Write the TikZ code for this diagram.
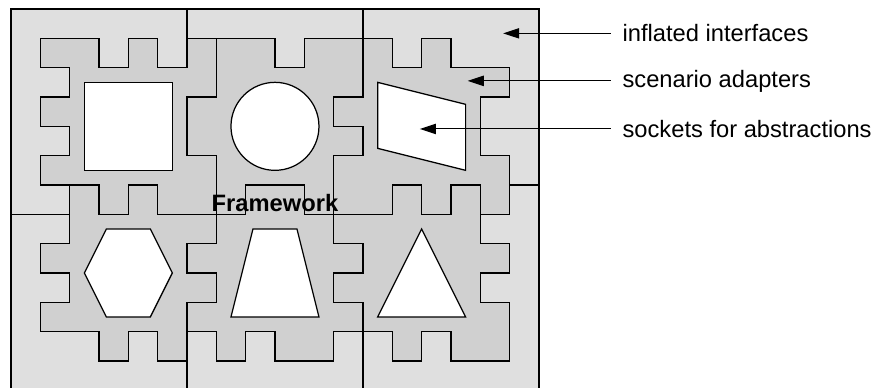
\documentclass[tikz,border=0pt]{standalone}
\usepackage{fontspec}
\setmainfont{Liberation Sans}
\usetikzlibrary{positioning, arrows.meta}
\definecolor{ifacegray}{gray}{0.875}
\definecolor{adaptgray}{gray}{0.815}

\begin{document}
\begin{tikzpicture}[x=0.5cm, y=-0.5cm, line width=0.6pt,
    interface/.style={fill=ifacegray, draw=black},
    adapter/.style={fill=adaptgray, draw=black},
    socket/.style={fill=white, draw=black},
    pointer/.style={-{Triangle[length=7.8pt, width=5pt]}, line width=0.5pt},
    caption/.style={anchor=west, inner xsep=0.19cm, inner ysep=0pt, font=\fontsize{11.5}{14}\selectfont}]
    \useasboundingbox (-0.375,-0.307) rectangle (29.526,12.888);

    % inflated interfaces
    \draw[interface] (0,0) rectangle (18,13);
    \draw (6,0) -- (6,1); % top split
    \draw (12,0) -- (12,1);
    \draw (0,7) -- (2,7); % left split
    \draw (17,6) -- (18,6); % right split
    \draw (6,12) -- (6,13); % bottom split
    \draw (12,11) -- (12,13);

    % scenario adapters, outer outline
    \draw[adapter] (1,1) -- (3,1) -- (3,2) -- (4,2) -- (4,1) -- (5,1) -- (5,2) -- (6,2) -- (6,1) -- (9,1) -- (9,2) -- (10,2) -- (10,1)
        -- (13,1) -- (13,2) -- (14,2) -- (14,1) -- (15,1) -- (15,2) -- (17,2) % top
        -- (17,3) -- (16,3) -- (16,5) -- (17,5) -- (17,7) -- (16,7) -- (16,8) -- (17,8) -- (17,9) -- (16,9) -- (16,10) -- (17,10) -- (17,12) % right
        -- (15,12) -- (15,11) -- (14,11) -- (14,12) -- (13,12) -- (13,11) -- (11,11) -- (11,12) -- (9,12) -- (9,11) -- (8,11) -- (8,12)
        -- (7,12) -- (7,11) -- (6,11) -- (6,12) -- (5,12) -- (5,11) -- (4,11) -- (4,12) -- (3,12) -- (3,11) -- (1,11) % bottom
        -- (1,10) -- (2,10) -- (2,9) -- (1,9) -- (1,8) -- (2,8) -- (2,6) -- (1,6) -- (1,5) -- (2,5) -- (2,4) -- (1,4) -- (1,3) -- (2,3)
        -- (2,2) -- (1,2) -- cycle; % left

    % seams between the adapters
    \draw (7,1) -- (7,3) -- (6,3) -- (6,5) -- (7,5) -- (7,7);
    \draw (12,1) -- (12,3) -- (11,3) -- (11,4) -- (12,4) -- (12,5) -- (11,5) -- (11,7);
    \draw (2,6) -- (3,6) -- (3,7) -- (4,7) -- (4,6) -- (5,6) -- (5,7) -- (7,7);
    \draw (7,7) -- (8,7) -- (8,6) -- (10,6) -- (10,7) -- (11,7);
    \draw (11,7) -- (13,7) -- (13,6) -- (14,6) -- (14,7) -- (15,7) -- (15,6) -- (16,6) -- (16,7);
    \draw (7,7) -- (7,8) -- (6,8) -- (6,9) -- (7,9) -- (7,10) -- (6,10) -- (6,11);
    \draw (11,7) -- (11,8) -- (12,8) -- (12,9) -- (11,9) -- (11,10) -- (12,10) -- (12,11);

    % sockets
    \draw[socket] (2.5,2.5) rectangle (5.5,5.5);
    \draw[socket] (9,4) circle[radius=1.5];
    \draw[socket] (12.5,2.5) -- (15.5,3.25) -- (15.5,5.5) -- (12.5,4.75) -- cycle;
    \draw[socket] (2.5,9) -- (3.25,7.5) -- (4.75,7.5) -- (5.5,9) -- (4.75,10.5) -- (3.25,10.5) -- cycle;
    \draw[socket] (8.25,7.5) -- (9.75,7.5) -- (10.5,10.5) -- (7.5,10.5) -- cycle;
    \draw[socket] (14,7.5) -- (15.5,10.5) -- (12.5,10.5) -- cycle;

    \node[font=\fontsize{11.5}{14}\selectfont\bfseries] (framework) at (9,6.6) {Framework};

    % legend
    \coordinate (tipIface) at (16.78,0.83);
    \coordinate (tipAdapt) at (15.57,2.45);
    \coordinate (tipSocket) at (13.94,4.09);
    \node[caption] (lblIface) at (20.45,0.83) {inflated interfaces};
    \node[caption] (lblAdapt) at (20.45,2.45) {scenario adapters};
    \node[caption] (lblSocket) at (20.45,4.09) {sockets for abstractions};
    \draw[pointer] (lblIface.west) -- (tipIface);
    \draw[pointer] (lblAdapt.west) -- (tipAdapt);
    \draw[pointer] (lblSocket.west) -- (tipSocket);
\end{tikzpicture}
\end{document}
